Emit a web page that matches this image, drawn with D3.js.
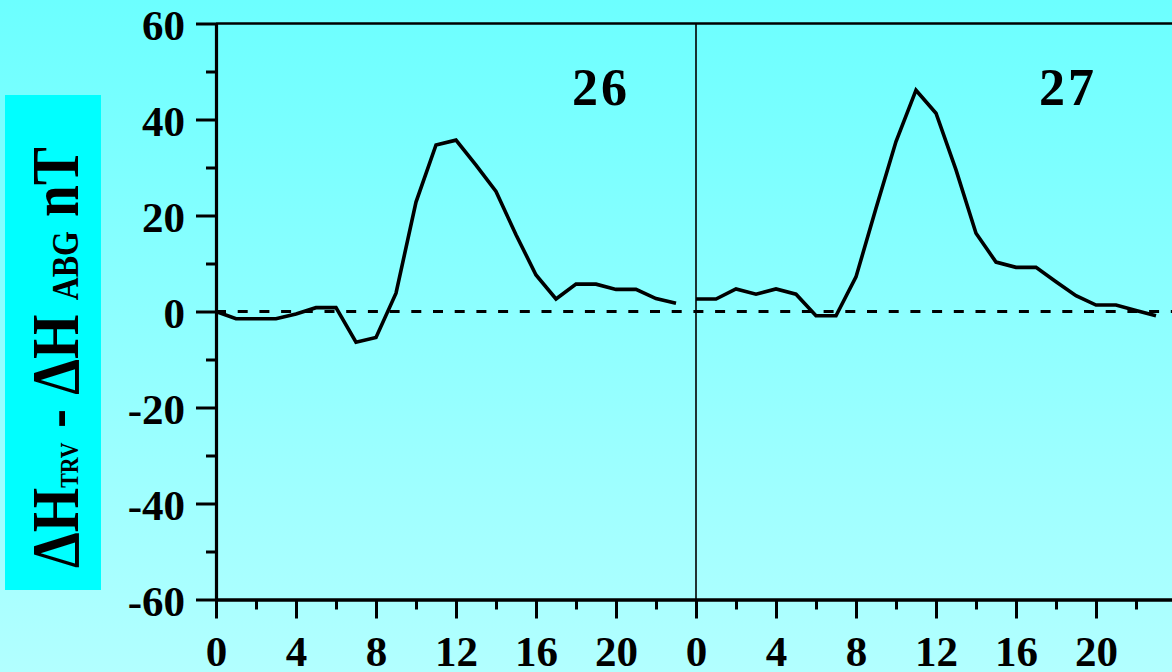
<!DOCTYPE html>
<html>
<head>
<meta charset="utf-8">
<script src="https://cdn.jsdelivr.net/npm/d3@7"></script>
<style>
html,body{margin:0;padding:0;background:#8fffff;}
svg{display:block;}
</style>
</head>
<body>
<svg id="chart" width="1172" height="672"></svg>
<script>
// ---- data ----
const hours = d3.range(0, 24);
const day26 = [0, -1.5, -1.5, -1.5, -0.5, 0.8, 0.8, -6.4, -5.4, 3.8, 22.8, 34.7, 35.7, 30.5, 25, 16, 7.6, 2.6, 5.7, 5.7, 4.6, 4.6, 2.7, 1.7];
const day27 = [2.6, 2.6, 4.7, 3.6, 4.7, 3.6, -0.9, -0.9, 7.2, 21.5, 35.4, 46.1, 41.3, 29.5, 16.3, 10.3, 9.2, 9.2, 6.2, 3.3, 1.35, 1.35, 0.2, -0.9];
const dayLabels = ["26", "27"];
const yMajorTicks = [-60, -40, -20, 0, 20, 40, 60];
const yMinorTicks = [-50, -30, -10, 10, 30, 50];
const xMajorTicks = [0, 4, 8, 12, 16, 20, 24, 28, 32, 36, 40, 44];
const xMinorTicks = [2, 6, 10, 14, 18, 22, 26, 30, 34, 38, 42, 46];
const xTickLabel = h => String(h % 24);

// ---- layout ----
const W = 1172, H = 672;
const mLeft = 216, mRight = 1172, mTop = 23.5, mBottom = 599.5;
const svg = d3.select("#chart");

const defs = svg.append("defs");
const grad = defs.append("linearGradient").attr("id", "bg").attr("x1", 0).attr("y1", 0).attr("x2", 0).attr("y2", 1);
grad.append("stop").attr("offset", "0%").attr("stop-color", "#6cffff");
grad.append("stop").attr("offset", "100%").attr("stop-color", "#b2ffff");
svg.append("rect").attr("width", W).attr("height", H).attr("fill", "url(#bg)");

const x = d3.scaleLinear().domain([0, 47.8]).range([mLeft, mRight]);
const y = d3.scaleLinear().domain([-60, 60]).range([mBottom, mTop]);

const fontFam = "'Liberation Serif','Times New Roman',serif";

// y-axis label box
const box = svg.append("g");
box.append("rect").attr("x", 5).attr("y", 95).attr("width", 96).attr("height", 495).attr("fill", "#00ffff");
const lab = box.append("text")
  .attr("transform", "translate(78,357.5) rotate(-90) scale(0.84,1)")
  .attr("text-anchor", "middle")
  .attr("font-family", fontFam).attr("font-weight", "bold").attr("fill", "#000");
lab.append("tspan").attr("font-size", 68).text("ΔH");
lab.append("tspan").attr("font-size", 26).text("TRV");
lab.append("tspan").attr("font-size", 68).text(" - ΔH ");
lab.append("tspan").attr("font-size", 38).text("ABG");
lab.append("tspan").attr("font-size", 68).text(" nT");

// zero dashed line
svg.append("line")
  .attr("x1", mLeft).attr("x2", mRight).attr("y1", y(0)).attr("y2", y(0))
  .attr("stroke", "#000").attr("stroke-width", 3).attr("stroke-dasharray", "10,11.7");

// top border
svg.append("line").attr("x1", mLeft).attr("x2", mRight).attr("y1", mTop).attr("y2", mTop)
  .attr("stroke", "#000").attr("stroke-width", 2.7);

// day divider
svg.append("line").attr("x1", x(24)).attr("x2", x(24)).attr("y1", mTop).attr("y2", mBottom)
  .attr("stroke", "#000").attr("stroke-width", 1.6);

// axes
function styleAxis(g, w) {
  g.selectAll("path.domain").attr("stroke", "#000").attr("stroke-width", w);
  g.selectAll(".tick line").attr("stroke", "#000").attr("stroke-width", 3);
}
const yAxisMinor = svg.append("g").attr("transform", `translate(${mLeft},0)`)
  .call(d3.axisLeft(y).tickValues(yMinorTicks).tickSize(10).tickSizeOuter(0).tickFormat(""));
styleAxis(yAxisMinor, 3);
const yAxis = svg.append("g").attr("transform", `translate(${mLeft},0)`)
  .call(d3.axisLeft(y).tickValues(yMajorTicks).tickSize(20).tickSizeOuter(0).tickPadding(11).tickFormat(d => String(d)));
styleAxis(yAxis, 3.2);
yAxis.selectAll(".tick text").attr("font-family", fontFam).attr("font-weight", "bold")
  .attr("font-size", 43).attr("fill", "#000").attr("dy", "0.38em");

const xAxisMinor = svg.append("g").attr("transform", `translate(0,${mBottom})`)
  .call(d3.axisBottom(x).tickValues(xMinorTicks).tickSize(10).tickSizeOuter(0).tickFormat(""));
styleAxis(xAxisMinor, 3);
const xAxis = svg.append("g").attr("transform", `translate(0,${mBottom})`)
  .call(d3.axisBottom(x).tickValues(xMajorTicks).tickSize(19).tickSizeOuter(0).tickFormat(xTickLabel));
styleAxis(xAxis, 3.2);
xAxis.selectAll(".tick text").attr("font-family", fontFam).attr("font-weight", "bold")
  .attr("font-size", 43).attr("fill", "#000").attr("y", 66).attr("dy", 0);

// lines
const line = d3.line().x(d => x(d[0])).y(d => y(d[1]));
[day26, day27].forEach((vals, i) => {
  const pts = hours.map((h, j) => [h + 24 * i, vals[j]]);
  svg.append("path").datum(pts).attr("d", line)
    .attr("fill", "none").attr("stroke", "#000").attr("stroke-width", 3.6)
    .attr("stroke-linejoin", "miter");
});

// day labels
const dayPos = [19.25, 42.6];
dayLabels.forEach((t, i) => {
  svg.append("text").attr("x", x(dayPos[i])).attr("y", 105)
    .attr("text-anchor", "middle").attr("font-family", fontFam).attr("font-weight", "bold")
    .attr("font-size", 52).attr("letter-spacing", 3).attr("fill", "#000").text(t);
});
</script>
</body>
</html>
